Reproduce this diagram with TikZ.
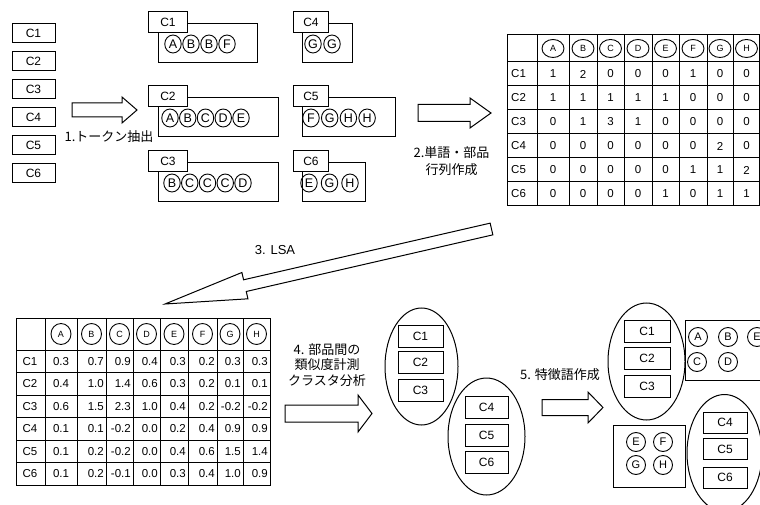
\documentclass[tikz,border=0pt]{standalone}
\usepackage{fontspec}
\setmainfont{Liberation Sans}
\newfontfamily\jp{Noto Sans CJK JP}
\usetikzlibrary{calc,shapes.geometric}

\newcommand{\blockarrow}[5]{% tail, tip, shaft half width, head half width, head length
	\coordinate (#2b) at ($(#2)!#5!(#1)$);
	\draw[hollow] ($(#1)!#3!90:(#2)$) -- ($(#2b)!#3!-90:(#1)$) -- ($(#2b)!#4!-90:(#1)$) -- (#2)
		-- ($(#2b)!#4!90:(#1)$) -- ($(#2b)!#3!90:(#1)$) -- ($(#1)!#3!-90:(#2)$) -- cycle;
}

\begin{document}
\begin{tikzpicture}[x=1pt,y=-1pt,line join=miter,font=\fontsize{12}{14}\selectfont]
			\tikzset{
				hollow/.style={draw,line width=1pt,fill=white},
				doc/.style={draw,line width=1pt,inner sep=0pt,minimum width=43pt,minimum height=19pt},
				clu/.style={doc,minimum width=45pt,minimum height=22pt},
				tab/.style={draw,fill=white,line width=1pt,inner sep=0pt,minimum height=21pt,anchor=north west},
				tok/.style={draw,ellipse,line width=0.9pt,inner sep=0pt,minimum width=16.5pt,minimum height=18pt,font=\fontsize{12.5}{13}\selectfont},
				ftok/.style={tok,minimum width=19pt,minimum height=19pt,font=\fontsize{11}{12}\selectfont},
				hd/.style={tok,minimum width=22pt,minimum height=18pt,font=\fontsize{9}{10}\selectfont},
				grp/.style={draw,ellipse,line width=1pt,inner sep=0pt,minimum width=75pt,minimum height=117pt},
				cell/.style={line width=1pt},
				num/.style={inner sep=0pt,font=\fontsize{11.5}{13}\selectfont},
				jlab/.style={font=\jp\fontsize{13}{17}\selectfont,align=center,inner sep=0pt}
			}
			\useasboundingbox (0,0) rectangle (760,505);
			\clip (0,0) rectangle (760,505);
			% documents
			\foreach \i in {1,...,6}
				\node[doc] (d\i) at (33.5,{33.5+28*(\i-1)}) {C\i};
			\coordinate (t1) at (72,110); \coordinate (h1) at (137,110);
			\blockarrow{t1}{h1}{7pt}{13pt}{15pt}
			\node[jlab] (l1) at (109,137) {1.トークン抽出};
			% tokens
			\foreach \n/\tx/\tw/\bl/\br/\by/\fx/\st/\toks in {
					1/148/39/158/257/24/173/18/{A,B,B,F},
					2/148/39/158/278/98/170/17.75/{A,B,C,D,E},
					3/148/39/158/278/163/172/17.75/{B,C,C,C,D},
					4/293/35/302/352/24/313/19/{G,G},
					5/293/35/302/395/98/311/18.7/{F,G,H,H},
					6/293/35/302/365/163/309/20.5/{E,G,H}}{
				\draw[line width=1pt] (\bl,\by) rectangle (\br,\by+39);
				\node[tab,minimum width=\tw pt] (c\n) at (\tx,\by-13) {C\n};
				\foreach \t [count=\k] in \toks
					\node[tok] (c\n-\k) at ({\fx+\st*(\k-1)},\by+20) {\t};
			}
			\coordinate (t2) at (418,113); \coordinate (h2) at (491,113);
			\blockarrow{t2}{h2}{8.5pt}{15pt}{21pt}
			\node[jlab] (l2) at (451.5,161.5) {2.単語・部品\\行列作成};
			% count matrix
			\draw[cell] (507,35) rectangle (759.5,206);
			\foreach \x in {537,569,597,624,652,679,707,733} \draw[cell] (\x,35) -- (\x,206);
			\foreach \y in {62,86,110,134,158,182} \draw[cell] (507,\y) -- (759.5,\y);
			\foreach \h [count=\c] in {A,B,C,D,E,F,G,H}{
				\pgfmathsetmacro\xm{{0,553,583,610.5,638,665.5,693,720,746.5}[\c]}
				\node[hd] (ha\c) at (\xm,48.5) {\h};
			}
			\foreach \lab/\vals [count=\r] in {C1/{1,2,0,0,0,1,0,0},C2/{1,1,1,1,1,0,0,0},C3/{0,1,3,1,0,0,0,0},
					C4/{0,0,0,0,0,0,2,0},C5/{0,0,0,0,0,1,1,2},C6/{0,0,0,0,1,0,1,1}}{
				\node[num,anchor=west] (ra\r) at (511,{50+24*\r}) {\lab};
				\foreach \v [count=\c] in \vals {
					\pgfmathsetmacro\xm{{0,553,583,610.5,638,665.5,693,720,746.5}[\c]}
					\node[num] (va\r-\c) at (\xm,{50+24*\r}) {\v};
				}
			}
			\coordinate (t3) at (491.5,229); \coordinate (h3) at (165,304);
			\blockarrow{t3}{h3}{6pt}{13.5pt}{82pt}
			\node[font=\fontsize{13}{15}\selectfont] (l3) at (275,250) {3. LSA};
			% LSA matrix
			\draw[cell] (16,318) rectangle (270,485);
			\foreach \x in {45,77,106,133,160,188,217,243} \draw[cell] (\x,318) -- (\x,485);
			\foreach \y in {350,372.5,395,417.5,440,462.5} \draw[cell] (16,\y) -- (270,\y);
			\foreach \h [count=\c] in {A,B,C,D,E,F,G,H}{
				\pgfmathsetmacro\xm{{0,61,91.5,119.5,146.5,174,202.5,230,256.5}[\c]}
				\node[hd,minimum width=20pt,minimum height=21pt] (hb\c) at (\xm,334) {\h};
			}
			\foreach \lab/\vals [count=\r] in {C1/{0.3,0.7,0.9,0.4,0.3,0.2,0.3,0.3},C2/{0.4,1.0,1.4,0.6,0.3,0.2,0.1,0.1},
					C3/{0.6,1.5,2.3,1.0,0.4,0.2,-0.2,-0.2},C4/{0.1,0.1,-0.2,0.0,0.2,0.4,0.9,0.9},
					C5/{0.1,0.2,-0.2,0.0,0.4,0.6,1.5,1.4},C6/{0.1,0.2,-0.1,0.0,0.3,0.4,1.0,0.9}}{
				\node[num] (rb\r) at (30,{338.75+22.5*\r}) {\lab};
				\foreach \v [count=\c] in \vals {
					\pgfmathsetmacro\xm{{0,77,106,133,160,188,217,243,270}[\c]}
					\ifnum\c=1
						\node[num] (vb\r-\c) at (61,{338.75+22.5*\r}) {\v};
					\else
						\node[num,anchor=east] (vb\r-\c) at (\xm-2,{338.75+22.5*\r}) {\v};
					\fi
				}
			}
			\coordinate (t4) at (285,413.5); \coordinate (h4) at (372,413.5);
			\blockarrow{t4}{h4}{8.5pt}{18.5pt}{14pt}
			\node[jlab,font=\jp\fontsize{13}{15.5}\selectfont] (l4) at (327,365) {4. 部品間の\\類似度計測\\クラスタ分析};
			% clusters
			\node[grp,minimum width=73pt] (g1) at (421.5,366.5) {};
			\node[clu] (k1) at (420.5,336) {C1};
			\node[clu] (k2) at (420.5,362.5) {C2};
			\node[clu] (k3) at (420.5,390.5) {C3};
			\node[grp,minimum width=77pt] (g2) at (486.5,436.5) {};
			\node[clu,minimum width=43pt] (k4) at (486.5,407.5) {C4};
			\node[clu,minimum width=43pt] (k5) at (486.5,435) {C5};
			\node[clu,minimum width=43pt] (k6) at (486.5,462.5) {C6};
			\coordinate (t5) at (542,407.5); \coordinate (h5) at (603,407.5);
			\blockarrow{t5}{h5}{8pt}{15.5pt}{15pt}
			\node[jlab] (l5) at (560,375) {5. 特徴語作成};
			% feature words
			\node[grp,minimum width=77pt] (g3) at (646.5,361.5) {};
			\node[clu,minimum width=46pt] (f1) at (647,331) {C1};
			\node[clu,minimum width=46pt] (f2) at (647,358) {C2};
			\node[clu,minimum width=46pt] (f3) at (647,386) {C3};
			\draw[line width=1pt] (685,320) rectangle (775,380);
			\node[ftok] (wa) at (698,337) {A};
			\node[ftok] (wb) at (728,337) {B};
			\node[ftok] (we) at (757,337) {E};
			\node[ftok] (wc) at (697,362) {C};
			\node[ftok] (wd) at (728,362) {D};
			\draw[line width=1pt] (613,425) rectangle (685,487);
			\node[ftok] (xe) at (636,442) {E};
			\node[ftok] (xf) at (663,442) {F};
			\node[ftok] (xg) at (636,465) {G};
			\node[ftok] (xh) at (663,465) {H};
			\node[grp] (g4) at (724.5,453) {};
			\node[clu,minimum width=44pt,minimum height=21pt] (f4) at (725,422.5) {C4};
			\node[clu,minimum width=44pt,minimum height=21pt] (f5) at (725,449) {C5};
			\node[clu,minimum width=44pt,minimum height=21pt] (f6) at (725,477.5) {C6};
		\end{tikzpicture}
\end{document}
